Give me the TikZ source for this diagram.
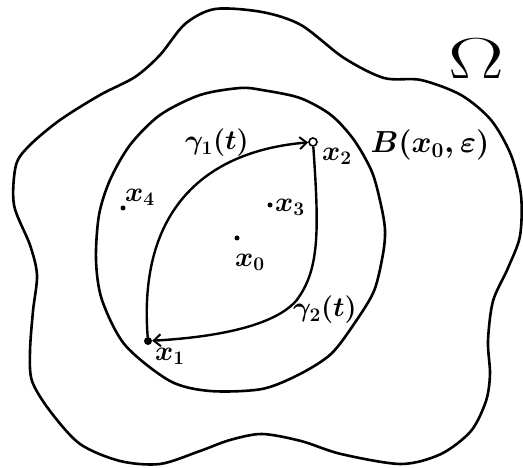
\documentclass[tikz,border=0pt]{standalone}
\usepackage{amsmath}
\usetikzlibrary{arrows.meta, positioning}
\tikzset{
    dotnode/.style={circle, fill=black, inner sep=0pt, minimum size=5pt},
    bigdot/.style={circle, fill=black, inner sep=0pt, minimum size=8pt},
    ringnode/.style={circle, draw, line width=1.6pt, fill=white, inner sep=0pt, minimum size=8pt},
    lbl/.style={inner sep=0pt, font=\LARGE\boldmath, scale=1.6},
    bound/.style={line width=2.6pt, line join=round},
    patharrow/.style={line width=2.4pt, -{Straight Barb[length=7pt, width=12pt, line width=2pt]}},
}
\begin{document}
\begin{tikzpicture}[x=1pt, y=-1pt]
    \useasboundingbox (0,0) rectangle (523,468);
    % Omega
    \draw[bound] plot[smooth cycle] coordinates {
        (262,12) (301,25) (344,58) (384,78) (421,80) (461,95) (491,120)
        (511,155) (521,195) (520,236) (508,268) (493,301) (488,341)
        (490,374) (486,401) (471,431) (441,454) (401,464) (341,454)
        (301,441) (262,434) (230,440) (200,451) (160,464) (120,461)
        (80,444) (50,411) (32,381) (30,351) (33,311) (37,275) (30,245)
        (14,205) (16,165) (30,145) (60,120) (100,95) (135,77) (160,55)
        (185,24) (215,9)};
    % the ball
    \draw[bound] plot[smooth cycle] coordinates {
        (240,88) (200,95) (160,115) (130,145) (110,180) (99,215)
        (96,260) (102,300) (125,345) (170,381) (210,391) (262,389)
        (300,374) (331,354) (354,324) (374,291) (383,254) (385,230)
        (381,205) (372,172) (354,140) (331,115) (300,98) (262,90)};
    % points
    \node[dotnode] (x0) at (237,238) {};
    \node[bigdot] (x1) at (148,341) {};
    \node[ringnode] (x2) at (313,142) {};
    \node[dotnode] (x3) at (270,205) {};
    \node[dotnode] (x4) at (123,208) {};
    % curves
    \draw[patharrow] (x1) .. controls +(-10,-131) and +(-108,9) .. (x2);
    \draw[patharrow] (x2) .. controls (319,230) and (320,270) .. (296,301)
        .. controls (270,330) and (200,338) .. (x1);
    % labels
    \node[lbl] (x0lbl) at (250,262) {$x_0$};
    \node[lbl] (x1lbl) at (170,356) {$x_1$};
    \node[lbl] (x2lbl) at (337,156) {$x_2$};
    \node[lbl] (x3lbl) at (290,207) {$x_3$};
    \node[lbl] (x4lbl) at (140,197) {$x_4$};
    \node[lbl] (g1lbl) at (217,143) {$\gamma_1(t)$};
    \node[lbl] (g2lbl) at (325,310) {$\gamma_2(t)$};
    \node[lbl, scale=1.1] (ball) at (430,145) {$B(x_0,\varepsilon)$};
    \node[lbl, font=\Huge, xscale=2.1, yscale=1.45] (omega) at (476,59) {$\Omega$};
\end{tikzpicture}
\end{document}
